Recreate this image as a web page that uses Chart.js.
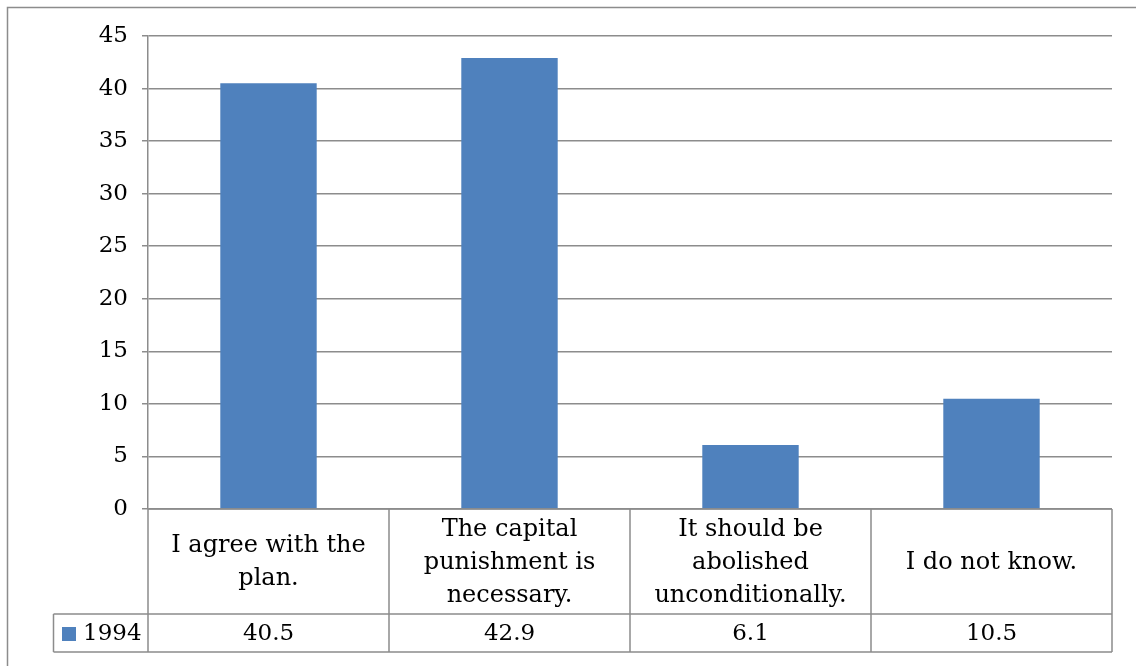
<!DOCTYPE html>
<html>
<head>
<meta charset="utf-8">
<script src="https://cdn.jsdelivr.net/npm/chart.js@4/dist/chart.umd.min.js"></script>
<style>
  html, body { margin: 0; padding: 0; background: #fff; }
  #wrap { width: 1136px; height: 666px; position: relative; }
</style>
</head>
<body>
<div id="wrap"><canvas id="chart"></canvas></div>
<script>
// survey answers, one bar per answer
const categories = [
  ['I agree with the', 'plan.'],
  ['The capital', 'punishment is', 'necessary.'],
  ['It should be', 'abolished', 'unconditionally.'],
  ['I do not know.']
];
const seriesName = '1994';
const values = [40.5, 42.9, 6.1, 10.5];
const valueLabels = ['40.5', '42.9', '6.1', '10.5'];
const yMin = 0, yMax = 45, yStep = 5;

const FONT = "'DejaVu Serif', 'Liberation Serif', serif";
const FONT_SIZE = 23;
const CAT_FONT_SIZE = 24;
const BAR = '#4F81BD';
const LINE = '#8c8c8c';

// outer frame of the chart object
const frame = {
  id: 'frame',
  beforeDraw(chart) {
    const ctx = chart.ctx;
    ctx.save();
    ctx.strokeStyle = LINE;
    ctx.lineWidth = 1.5;
    ctx.beginPath();
    ctx.moveTo(7.5, chart.height);
    ctx.lineTo(7.5, 7.5);
    ctx.lineTo(chart.width, 7.5);
    ctx.stroke();
    ctx.restore();
  }
};

// data table under the plot: category row + value row with legend key
const dataTable = {
  id: 'dataTable',
  afterDraw(chart) {
    const ctx = chart.ctx;
    const xs = chart.scales.x;
    const area = chart.chartArea;
    const colW = xs.width / categories.length;
    const top = area.bottom;
    const mid = top + 105;
    const bot = mid + 38;
    const keyLeft = 53.5;

    ctx.save();
    ctx.strokeStyle = LINE;
    ctx.lineWidth = 1.5;
    ctx.beginPath();
    // horizontal rules
    ctx.moveTo(area.left, top); ctx.lineTo(area.right, top);
    ctx.moveTo(keyLeft, mid); ctx.lineTo(area.right, mid);
    ctx.moveTo(keyLeft, bot); ctx.lineTo(area.right, bot);
    // vertical rules
    ctx.moveTo(keyLeft, mid); ctx.lineTo(keyLeft, bot);
    for (let i = 0; i <= categories.length; i++) {
      const x = area.left + i * colW;
      ctx.moveTo(x, top); ctx.lineTo(x, bot);
    }
    ctx.stroke();

    ctx.fillStyle = '#000';
    ctx.textAlign = 'center';
    ctx.textBaseline = 'middle';
    const lineH = 33;
    categories.forEach((lines, i) => {
      const cx = xs.getPixelForValue(i);
      const cy = (top + mid) / 2;
      const y0 = cy - (lines.length - 1) * lineH / 2;
      ctx.font = CAT_FONT_SIZE + 'px ' + FONT;
      lines.forEach((t, j) => ctx.fillText(t, cx, y0 + j * lineH + 1));
      ctx.font = FONT_SIZE + 'px ' + FONT;
      ctx.fillText(valueLabels[i], cx, (mid + bot) / 2 + 1);
    });

    // legend key
    ctx.fillStyle = BAR;
    ctx.fillRect(62, mid + 13, 14, 14);
    ctx.fillStyle = '#000';
    ctx.textAlign = 'left';
    ctx.fillText(seriesName, 83, (mid + bot) / 2 + 1);
    ctx.restore();
  }
};

new Chart(document.getElementById('chart'), {
  type: 'bar',
  data: {
    labels: categories.map(c => c.join(' ')),
    datasets: [{
      label: seriesName,
      data: values,
      backgroundColor: BAR,
      borderWidth: 0,
      categoryPercentage: 0.4,
      barPercentage: 1.0
    }]
  },
  options: {
    responsive: true,
    maintainAspectRatio: false,
    animation: false,
    layout: { padding: { left: 0, top: 36, right: 24, bottom: 157 } },
    plugins: {
      legend: { display: false },
      tooltip: { enabled: false }
    },
    scales: {
      x: { display: false },
      y: {
        min: yMin,
        max: yMax,
        ticks: {
          stepSize: yStep,
          color: '#000',
          padding: 14,
          font: { family: FONT, size: FONT_SIZE }
        },
        grid: {
          color: LINE,
          lineWidth: 1.5,
          tickLength: 6
        },
        border: { color: LINE, width: 1.5 },
        afterFit(scale) { scale.width = 148; }
      }
    }
  },
  plugins: [frame, dataTable]
});
</script>
</body>
</html>
